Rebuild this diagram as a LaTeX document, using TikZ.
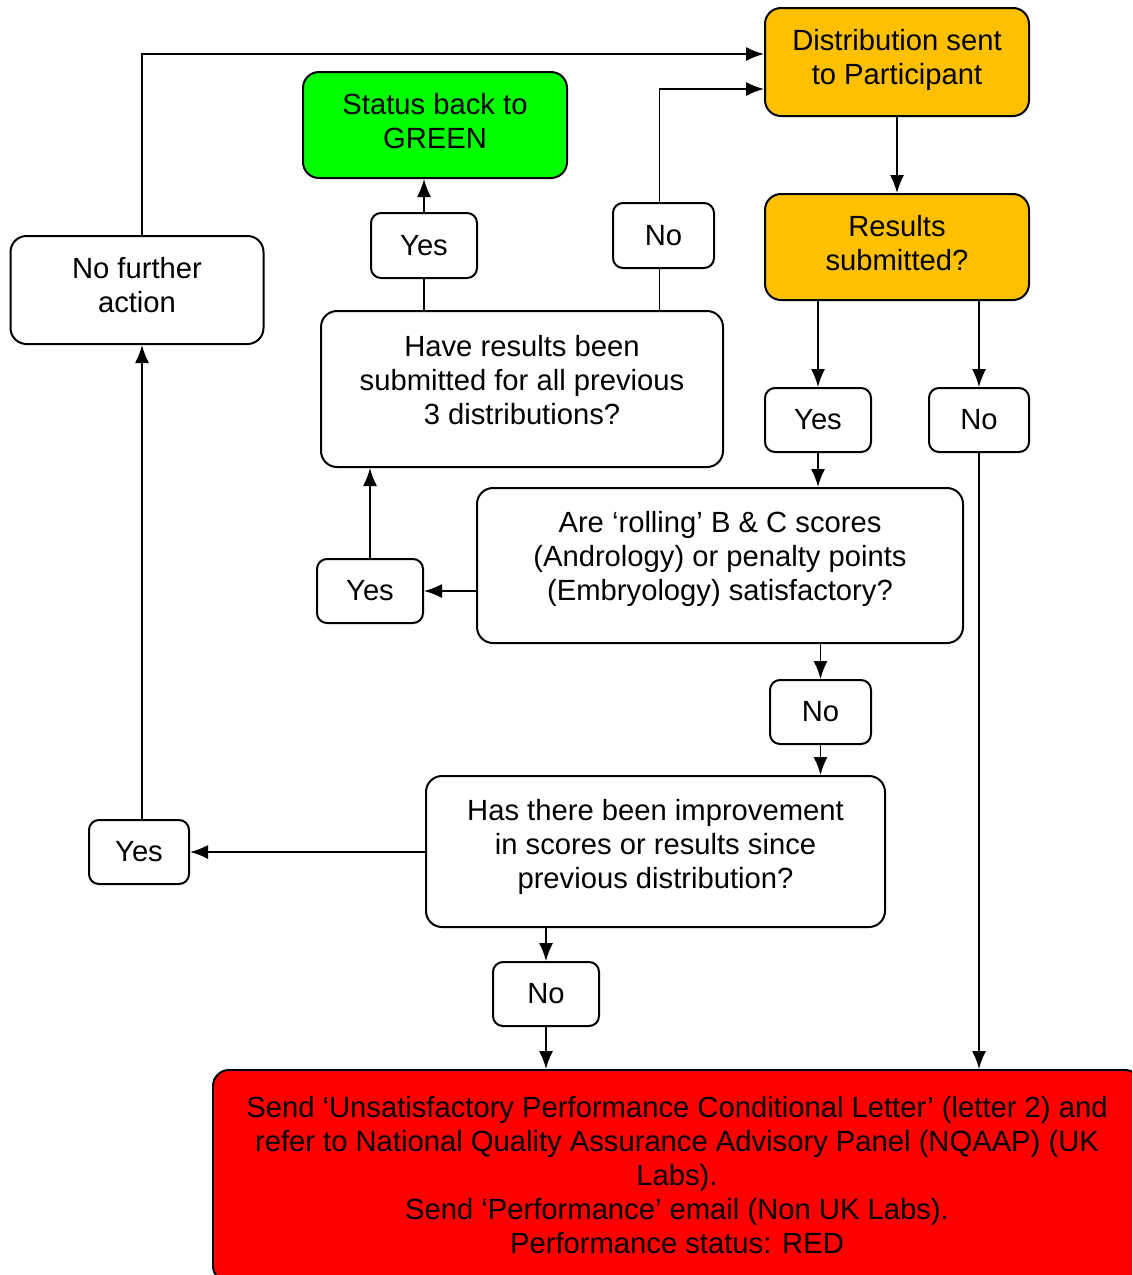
\documentclass[tikz,border=0pt]{standalone}
\usepackage{fontspec}
\setmainfont{Liberation Sans}
\usetikzlibrary{arrows.meta}
\definecolor{amber}{HTML}{FFC000}
\definecolor{brightgreen}{HTML}{00FF00}
\definecolor{alarmred}{HTML}{FF0000}
% lines of a box, lifted a little above the middle
\newcommand*{\boxtext}[2]{\raisebox{#1}[\height][\depth]{\begin{tabular}{@{}c@{}}#2\end{tabular}}}

\begin{document}
\begin{tikzpicture}[x=0.5pt, y=-0.5pt,
    box/.style={draw, line width=1pt, rounded corners=8pt, inner sep=0pt,
      font=\fontsize{14.6}{17}\selectfont},
    ans/.style={box, rounded corners=5pt},
    flow/.style={line width=0.8pt, -{Latex[length=9pt,width=7pt]}},
    link/.style={line width=0.8pt}]
		\clip (0,0) rectangle (1132,1275);

		% boxes
		\node[box, fill=amber, minimum width=132pt, minimum height=54pt] (dist) at (897,62) {\boxtext{0.5pt}{Distribution sent\\to Participant}};
		\node[box, fill=brightgreen, minimum width=132pt, minimum height=53pt] (green) at (435,125) {\boxtext{0pt}{Status back to\\GREEN}};
		\node[box, fill=amber, minimum width=132pt, minimum height=53pt] (ressub) at (897,247) {\boxtext{0pt}{Results\\submitted?}};
		\node[box, minimum width=126.5pt, minimum height=54pt] (nfa) at (137,290) {\boxtext{0.5pt}{No further\\action}};
		\node[box, minimum width=201pt, minimum height=78pt] (prev3) at (522,389) {\boxtext{2.5pt}{Have results been\\submitted for all previous\\3 distributions?}};
		\node[box, minimum width=243pt, minimum height=77.5pt] (rolling) at (720,565.5) {\boxtext{3pt}{Are `rolling' B \& C scores\\(Andrology) or penalty points\\(Embryology) satisfactory?}};
		\node[box, minimum width=229.5pt, minimum height=75.5pt] (improve) at (655.5,851.5) {\boxtext{2pt}{Has there been improvement\\in scores or results since\\previous distribution?}};
		\node[box, fill=alarmred, minimum width=464pt, minimum height=106pt] (red) at (677,1176) {\boxtext{-1.5pt}{Send `Unsatisfactory Performance Conditional Letter' (letter 2) and\\refer to National Quality Assurance Advisory Panel (NQAAP) (UK\\Labs).\\Send `Performance' email (Non UK Labs).\\Performance status: RED}};

		% answers
		\node[ans, minimum width=53pt, minimum height=32.5pt] (yes1) at (424,245.5) {Yes};
		\node[ans, minimum width=50.5pt, minimum height=32.5pt] (no1) at (663.5,235.5) {No};
		\node[ans, minimum width=53pt, minimum height=32pt] (yes2) at (818,420) {Yes};
		\node[ans, minimum width=50pt, minimum height=32pt] (no2) at (979,420) {No};
		\node[ans, minimum width=53pt, minimum height=32pt] (yes3) at (370,591) {Yes};
		\node[ans, minimum width=50.5pt, minimum height=32pt] (no3) at (820.5,712) {No};
		\node[ans, minimum width=50pt, minimum height=32pt] (yes4) at (139,852) {Yes};
		\node[ans, minimum width=53pt, minimum height=32pt] (no4) at (546,994) {No};

		% connectors
		\draw[flow] ([xshift=2.5pt]nfa.north) |- ([yshift=4pt]dist.west);
		\draw[flow] ([xshift=-2pt]no1.north) |- ([yshift=-13.5pt]dist.west);
		\draw[flow] (dist.south) -- (ressub.north);
		\draw[link] (yes1.south) -- (yes1.south |- prev3.north);
		\draw[flow] (yes1.north) -- (yes1.north |- green.south);
		\draw[link] ([xshift=-2pt]no1.south) -- ([xshift=-2pt]no1.south |- prev3.north);
		\draw[flow] (yes2.north |- ressub.south) -- (yes2.north);
		\draw[flow] (no2.north |- ressub.south) -- (no2.north);
		\draw[flow] (yes2.south) -- (yes2.south |- rolling.north);
		\draw[flow] (no2.south) -- (no2.south |- red.north);
		\draw[flow] (rolling.west |- yes3.east) -- (yes3.east);
		\draw[flow] (yes3.north) -- (yes3.north |- prev3.south);
		\draw[flow] (no3.north |- rolling.south) -- (no3.north);
		\draw[flow] (no3.south) -- (no3.south |- improve.north);
		\draw[flow] (improve.west |- yes4.east) -- (yes4.east);
		\draw[flow] ([xshift=1.5pt]yes4.north) -- ([xshift=1.5pt]yes4.north |- nfa.south);
		\draw[flow] (no4.north |- improve.south) -- (no4.north);
		\draw[flow] (no4.south) -- (no4.south |- red.north);
\end{tikzpicture}
\end{document}
